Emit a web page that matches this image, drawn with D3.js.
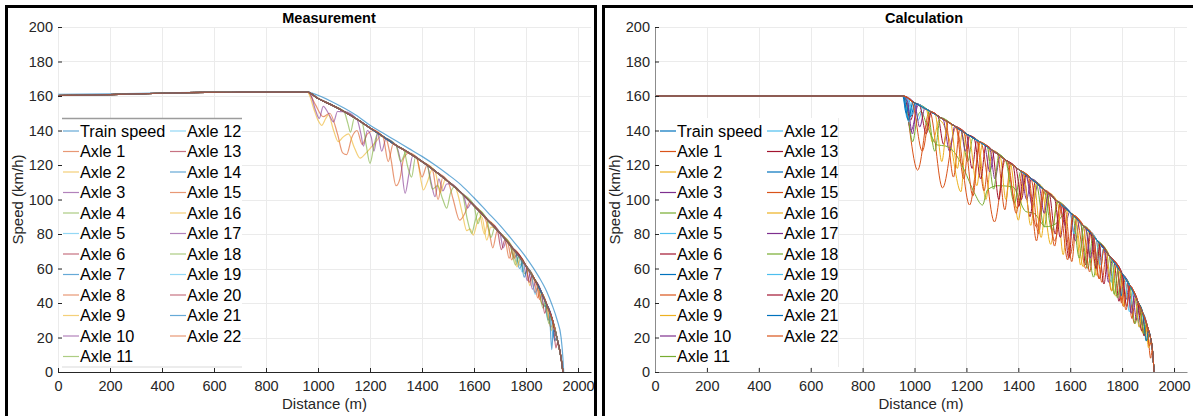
<!DOCTYPE html>
<html>
<head>
<meta charset="utf-8">
<script src="https://cdn.jsdelivr.net/npm/d3@7"></script>
<style>
    body { margin: 0; background: #fff; }
    svg { display: block; font-family: "Liberation Sans", Arial, sans-serif; }
</style>
</head>
<body>
<svg id="chart" width="1193" height="416"></svg>
<script>
// Data: [distance (m), speed (km/h)]
const seriesNames = ["Train speed", "Axle 1", "Axle 2", "Axle 3", "Axle 4", "Axle 5", "Axle 6", "Axle 7", "Axle 8", "Axle 9", "Axle 10", "Axle 11",
    "Axle 12", "Axle 13", "Axle 14", "Axle 15", "Axle 16", "Axle 17", "Axle 18", "Axle 19", "Axle 20", "Axle 21", "Axle 22"]
const xTicks = [0, 200, 400, 600, 800, 1000, 1200, 1400, 1600, 1800, 2000]
const yTicks = [0, 20, 40, 60, 80, 100, 120, 140, 160, 180, 200]

// Measurement
const measTrain = [[0,161],[200,161.3],[400,161.8],[600,162.3],[800,162.3],[955,162.5],[980,161.5],[1050,157],[1100,153],[1150,148.5],[1200,143],
    [1250,138.5],[1300,134],[1350,129.5],[1400,125],[1450,120],[1500,114.5],[1550,108.5],[1600,101],[1650,93],[1700,85],[1750,76],[1800,66.5],
    [1850,55],[1880,46.5],[1900,39],[1920,30],[1935,20],[1942,8],[1945,0]]
const measBase = [[0,160.3],[100,160.5],[200,160.8],[300,161.2],[400,161.6],[500,161.9],[600,162.1],[700,162.2],[800,162.2],[900,162.3],[960,162.2],
    [1000,158.5],[1050,155],[1100,151],[1150,146.5],[1200,141.5],[1250,136.5],[1300,131.5],[1350,127],[1400,122],[1450,116.5],[1500,110.5],
    [1550,104],[1600,96.5],[1650,88.5],[1700,80.5],[1750,71.5],[1800,61.5],[1830,54.5],[1860,46],[1880,39],[1900,31],[1920,19],[1935,8],[1942,0]]
const measDips = [
    // Axle 1
    [[[965,161.7],[990,155],[1020,148],[1045,150],[1075,138],[1095,127],[1110,126],[1130,136],[1150,140],[1170,132],[1190,138],[1215,140]],
     [[1262,135.3],[1280,124],[1300,108],[1315,112],[1330,124],[1350,127]],
     [[1500,110.5],[1520,100],[1545,88],[1565,92],[1585,98.8]],
     [[1640,90.1],[1660,80],[1672,72],[1690,82.1]],
     [[1840,51.7],[1860,40],[1875,38],[1885,37]]],
    // Axle 2
    [[[962,162],[985,152],[1000,146],[1014,143],[1030,147],[1040,149],[1060,140],[1078,133.5],[1095,136],[1117,138],[1140,130],[1162,124],[1185,127],[1206,130.6],[1225,134],[1245,137]],
     [[1380,124],[1395,112],[1405,105.5],[1420,110],[1440,117.6]],
     [[1530,106.6],[1555,92],[1572,82],[1585,83],[1597,79.4],[1615,88],[1630,90],[1649,76.5],[1665,84],[1680,83.7]],
     [[1760,69.5],[1775,62],[1790,63.5]]],
    // Axle 3
    [[[970,161.3],[990,152],[1005,147],[1020,154],[1040,150],[1060,145],[1075,151],[1100,151]],
     [[1150,146.5],[1165,138],[1175,131],[1190,140],[1205,136],[1215,128],[1230,138.5]],
     [[1300,131.5],[1320,120],[1335,103.6],[1350,115],[1365,125.5]],
     [[1420,120],[1435,110],[1450,101.6],[1465,112],[1480,105],[1495,109],[1510,109.2]],
     [[1700,80.5],[1712,72],[1725,76]]],
    // Axle 4
    [[[1100,151],[1115,144],[1125,139],[1140,147.4]],
     [[1170,144.5],[1185,132],[1200,121],[1215,131],[1230,138.5]],
     [[1330,128.8],[1345,119],[1360,113],[1375,124.5]],
     [[1420,120],[1440,106],[1460,108],[1480,100],[1495,95],[1510,104],[1525,107.3]],
     [[1555,103.3],[1575,88],[1591,80.4],[1605,88],[1620,93.3]],
     [[1780,65.5],[1795,57],[1810,59.2]]],
    [[[1750,71.5],[1762,64],[1772,67.1]], [[1855,47.4],[1870,38],[1880,39]]],
    [[[1740,73.3],[1755,66],[1765,68.5]], [[1820,56.8],[1835,46],[1848,49.4]]],
    [[[1760,69.5],[1775,60],[1790,63.5]], [[1870,42.5],[1885,30],[1895,33]]],
    [[[1380,124],[1400,113],[1420,120]], [[1720,76.9],[1735,66],[1750,71.5]], [[1880,39],[1895,26],[1905,28]]],
    [[[1450,116.5],[1470,104],[1490,111.7]], [[1620,93.3],[1640,80],[1655,87.7]], [[1800,61.5],[1815,50],[1825,55.7]]],
    [[[1230,138.5],[1245,128],[1262,135.3]], [[1560,102.5],[1575,95],[1590,98]], [[1790,63.5],[1805,53],[1818,57.3]]],
    [[[1300,131.5],[1318,122],[1340,127.9]], [[1650,88.5],[1665,78],[1680,83.7]], [[1850,48.8],[1865,37],[1875,40.8]]],
    [[[1770,67.5],[1785,58],[1797,62.1]], [[1895,33],[1905,20],[1912,23.8]]],
    [[[1690,82.1],[1705,71],[1720,76.9]], [[1860,46],[1872,34],[1882,38.2]]],
    [[[1780,65.5],[1793,55],[1806,60.1]], [[1900,31],[1910,18],[1918,20.2]]],
    [[[1440,117.6],[1462,100],[1480,112.9]], [[1730,75.1],[1745,65],[1758,69.9]], [[1830,54.5],[1845,43],[1855,47.4]]],
    [[[1750,71.5],[1765,61],[1778,65.9]], [[1885,37],[1897,24],[1905,28]]],
    [[[1810,59.2],[1825,48],[1838,52.2]]],
    [[[1600,96.5],[1615,86],[1630,91.7]], [[1740,73.3],[1760,62],[1772,67.1]], [[1875,40.8],[1888,28],[1896,32.6]]],
    [[[1820,56.8],[1835,45],[1846,50]]],
    [[[1800,61.5],[1812,52],[1824,55.9]], [[1905,28],[1915,14],[1922,17.5]]],
    [[[1890,35],[1899,13],[1905,24],[1912,23.8]]],
    [[[1250,136.5],[1270,122],[1290,132.5]], [[1840,51.7],[1852,42],[1862,45.3]]]
]

// Calculation
const calcTrain = [[0,160],[954,160],[1000,156],[1050,152],[1100,147.5],[1150,143],[1200,138],[1250,133.5],[1300,128.5],[1350,123],[1400,117.5],
    [1450,112],[1500,105.5],[1550,99],[1600,92.5],[1650,85],[1700,77],[1750,67.5],[1800,57],[1830,50],[1860,41],[1880,34],[1900,25],[1910,19.5],
    [1918,11],[1923,0]]
const calcDips = [
    // Axle 1
    [[[954,160],[1012,117],[1058,151.3],[1108,106.7],[1160,142],[1212,96.8],[1255,133],[1308,87],[1350,123],[1395,95],[1430,114.2],[1470,84],
      [1505,104.9],[1540,76],[1570,96.4],[1600,68],[1625,88.7],[1660,60],[1680,80.2],[1712,54],[1730,71.3],[1760,47],[1778,61.6],[1805,38],
      [1822,51.8],[1848,28],[1862,40.3],[1885,21],[1895,27.3],[1910,8],[1916,13]]],
    // Axle 2
    [[[1045,152.4],[1070,133],[1095,146],[1135,134.5],[1179,104.5],[1199,138.1]], [[1245,134],[1275,100],[1300,128.5]],
     [[1370,120.8],[1400,88],[1425,114.8]], [[1490,106.8],[1525,74],[1550,99]], [[1620,89.5],[1650,61],[1672,81.5]],
     [[1750,67.5],[1775,44],[1792,58.7]], [[1860,41],[1878,23],[1890,29.5]]],
    // Axle 3
    [[[958,159.7],[987,140],[1015,154.8]], [[1110,146.6],[1135,128],[1155,142.5]], [[1290,129.5],[1310,112],[1330,125.2]],
     [[1430,114.2],[1455,96],[1475,108.8]], [[1560,97.7],[1580,85],[1598,92.8]], [[1690,78.6],[1705,62],[1720,73.2]], [[1800,57],[1815,42],[1828,50.5]]],
    // Axle 4
    [[[960,159.5],[975,148],[993,133.5],[1010,147],[1025,151],[1050,142],[1089,131.6],[1120,131],[1150,128],[1192,117],[1230,104],[1262,96.8],
      [1281,105.5],[1320,108],[1378,107.4],[1429,93],[1460,92],[1506,84.2],[1545,86],[1590,93.8]],
     [[1660,83.4],[1690,55],[1712,74.8]], [[1830,50],[1850,28],[1866,38.9]]],
    [[[956,159.8],[972,147],[990,156.9]], [[1000,156],[1015,146],[1032,153.4]], [[1740,69.4],[1758,52],[1772,62.9]]],
    [[[962,159.3],[985,146],[1005,155.6]], [[1200,138],[1222,118],[1240,134.4]], [[1380,119.7],[1402,96],[1420,115.3]], [[1520,102.9],[1542,80],[1560,97.7]],
     [[1640,86.5],[1660,62],[1676,80.8]], [[1770,63.3],[1788,41],[1802,56.5]], [[1870,37.5],[1885,21],[1895,27.3]]],
    [[[955,159.9],[968,150],[982,157.5]], [[1850,44],[1868,26],[1880,34]]],
    [[[1120,145.7],[1150,113],[1175,140.5]], [[1240,134.4],[1268,105],[1290,129.5]], [[1320,126.3],[1348,94],[1370,120.8]], [[1450,112],[1478,80],[1500,105.5]],
     [[1580,95.1],[1606,64],[1625,88.7]], [[1700,77],[1722,52],[1740,69.4]], [[1820,52.3],[1838,31],[1852,43.4]]],
    [[[1140,143.9],[1165,118],[1185,139.5]], [[1330,125.2],[1352,100],[1372,120.6]], [[1460,110.7],[1488,78],[1510,104.2]], [[1550,99],[1573,68],[1592,93.6]],
     [[1680,80.2],[1700,56],[1718,73.6]], [[1790,59.1],[1808,38],[1822,51.8]], [[1890,29.5],[1902,14],[1910,19.5]]],
    [[[1000,156],[1020,142],[1040,152.8]], [[1270,131.5],[1290,116],[1308,127.6]], [[1410,116.4],[1432,100],[1450,112]], [[1600,92.5],[1620,76],[1636,87.1]],
     [[1730,71.3],[1748,52],[1762,65]], [[1840,47],[1856,30],[1868,38.2]]],
    [[[1180,140],[1205,122],[1225,135.7]], [[1350,123],[1385,98],[1410,116.4]], [[1500,105.5],[1530,82],[1552,98.7]], [[1640,86.5],[1668,60],[1688,78.9]],
     [[1760,65.4],[1782,43],[1798,57.4]], [[1880,34],[1895,18],[1905,22.2]]],
    [[[960,159.5],[978,145],[996,156.4]], [[1600,92.5],[1615,80],[1628,88.3]], [[1810,54.7],[1828,35],[1842,46.4]]],
    [[[1090,148.4],[1112,132],[1130,144.8]], [[1300,128.5],[1325,100],[1345,123.5]], [[1420,115.3],[1445,90],[1465,110]], [[1570,96.4],[1595,66],[1612,90.7]],
     [[1710,75.1],[1730,51],[1746,68.3]], [[1860,41],[1875,24],[1886,31.3]]],
    [[[966,158.9],[985,148],[1002,155.8]], [[1780,61.2],[1796,44],[1808,55.2]]],
    [[[1160,142],[1190,112],[1212,136.9]], [[1360,121.9],[1392,92],[1415,115.9]], [[1510,104.2],[1540,73],[1562,97.4]], [[1650,85],[1675,58],[1694,78]],
     [[1780,61.2],[1798,40],[1812,54.2]], [[1895,27.3],[1905,15],[1912,17.4]]],
    [[[1080,149.3],[1105,122],[1128,145]], [[1210,137.1],[1240,108],[1262,132.3]], [[1420,115.3],[1448,85],[1470,109.4]], [[1620,89.5],[1640,62],[1660,83.4]],
     [[1740,69.4],[1760,47],[1776,62]], [[1850,44],[1866,26],[1878,34.7]]],
    [[[970,158.6],[992,138],[1010,155.2]], [[1180,140],[1196,128],[1212,136.9]], [[1480,108.1],[1500,92],[1516,103.4]], [[1660,83.4],[1678,66],[1692,78.3]],
     [[1820,52.3],[1836,34],[1848,44.6]]],
    [[[1050,152],[1078,128],[1100,147.5]], [[1280,130.5],[1305,106],[1325,125.7]], [[1470,109.4],[1500,84],[1520,102.9]], [[1610,91],[1635,66],[1652,84.7]],
     [[1750,67.5],[1770,45],[1785,60.2]], [[1870,37.5],[1884,22],[1894,28.4]]],
    [[[975,158.2],[990,149],[1006,155.5]], [[1700,77],[1716,62],[1728,71.7]]],
    [[[1020,154.4],[1045,138],[1065,150.7]], [[1230,135.3],[1255,112],[1275,131]], [[1390,118.6],[1412,100],[1430,114.2]], [[1540,100.3],[1562,78],[1580,95.1]],
     [[1680,80.2],[1700,60],[1715,74.2]], [[1800,57],[1818,38],[1830,50]]],
    [[[958,159.7],[976,146],[994,156.5]], [[1880,34],[1893,18],[1902,24]]],
    [[[990,156.9],[1030,128],[1062,150.9]], [[1190,139],[1225,102],[1250,133.5]], [[1440,113.1],[1470,76],[1495,106.2]], [[1560,97.7],[1590,65],[1610,91]],
     [[1690,78.6],[1712,54],[1730,71.3]], [[1795,58],[1815,36],[1830,50]]]
]

const lineColors = ["#0072BD", "#D95319", "#EDB120", "#7E2F8E", "#77AC30", "#4DBEEE", "#A2142F"]

// base curve outside the dips, dip points inside them
function buildSeries(base, dips){
    let spans = dips.map((g) => {return [g[0][0], g[g.length - 1][0]]})
    let kept = base.filter((p) => {return !spans.some((s) => {return p[0] >= s[0] && p[0] <= s[1]})})
    return kept.concat(...dips).sort((a, b) => {return a[0] - b[0]})
}

function drawPanel(svg, cfg){
    let x = d3.scaleLinear([0, 2050], [cfg.x0, cfg.x1])
    let y = d3.scaleLinear([0, 200], [372, 27])
    let g = svg.append('g')

    // grid
    g.append('g').selectAll('line').data(xTicks).join('line')
        .attr('x1', (d) => {return Math.round(x(d)) + 0.5}).attr('x2', (d) => {return Math.round(x(d)) + 0.5})
        .attr('y1', 27).attr('y2', 372).attr('stroke', '#ebebeb')
    g.append('g').selectAll('line').data(yTicks).join('line')
        .attr('x1', cfg.x0).attr('x2', cfg.x1)
        .attr('y1', (d) => {return Math.round(y(d)) + 0.5}).attr('y2', (d) => {return Math.round(y(d)) + 0.5}).attr('stroke', '#ebebeb')

    // lines
    let series = [cfg.train].concat(cfg.dips.map((d) => {return buildSeries(cfg.base, d)}))
    let line = d3.line().x((d) => {return x(d[0])}).y((d) => {return y(d[1])}).curve(d3.curveMonotoneX)
    g.append('g').selectAll('path').data(series).join('path')
        .attr('d', line)
        .attr('fill', 'none')
        .attr('stroke', (d, i) => {return lineColors[i % 7]})
        .attr('stroke-width', cfg.width)
        .attr('stroke-opacity', cfg.opacity)

    // legend
    let lg = g.append('g')
    lg.append('rect').attr('x', cfg.x0 + cfg.legendLeft).attr('y', 118).attr('width', 184 - cfg.legendLeft).attr('height', 249).attr('fill', '#fff')
    if (cfg.legendTop) {
        lg.append('line').attr('x1', cfg.x0 + 4).attr('x2', cfg.x0 + 184).attr('y1', 118.5).attr('y2', 118.5).attr('stroke', '#9c9c9c').attr('stroke-width', 1.5)
        lg.append('line').attr('x1', cfg.x0 + 4).attr('x2', cfg.x0 + 184).attr('y1', 367).attr('y2', 367).attr('stroke', '#ececec').attr('stroke-width', 2)
    } else {
        lg.append('line').attr('x1', cfg.x0 + 183.5).attr('x2', cfg.x0 + 183.5).attr('y1', 118).attr('y2', 367).attr('stroke', '#ececec')
    }
    let items = lg.selectAll('g.item').data(seriesNames).join('g').attr('class', 'item')
        .attr('transform', (d, i) => {
            let col = i < 12 ? 0 : 1
            let row = i < 12 ? i : i - 12
            return 'translate(' + (cfg.x0 + col * 107) + ',' + (131 + row * 20.5) + ')'
        })
    items.append('line').attr('x1', 5).attr('x2', 21).attr('y1', 0).attr('y2', 0)
        .attr('stroke', (d, i) => {return lineColors[i % 7]}).attr('stroke-width', 1.2).attr('stroke-opacity', cfg.opacity)
    items.append('text').attr('x', 22).attr('dy', '0.36em').attr('font-size', '16.3px').attr('fill', '#000').text((d) => {return d})

    // axes
    let xAxis = d3.axisBottom(x).tickValues(xTicks).tickFormat(d3.format('d')).tickSizeInner(-4).tickSizeOuter(0).tickPadding(9)
    let yAxis = d3.axisLeft(y).tickValues(yTicks).tickFormat(d3.format('d')).tickSizeInner(-4).tickSizeOuter(0).tickPadding(5)
    let gx = g.append('g').attr('transform', 'translate(0,372)').call(xAxis)
    let gy = g.append('g').attr('transform', 'translate(' + cfg.x0 + ',0)').call(yAxis)
    ;[gx, gy].forEach((a) => {
        a.attr('font-family', null).attr('font-size', null)
        a.selectAll('text').attr('font-size', '14.5px').attr('fill', '#262626')
        a.selectAll('.tick line').attr('stroke', '#262626')
        a.select('.domain').attr('stroke', cfg.axisColor)
    })
    gx.select('.domain').attr('stroke', cfg.xAxisColor)
    if (!cfg.yAxisLine) gy.select('.domain').remove()

    // titles
    g.append('text').attr('x', cfg.titleX).attr('y', 23).attr('text-anchor', 'middle')
        .attr('font-size', '14.5px').attr('font-weight', 'bold').attr('fill', '#000').text(cfg.title)
    g.append('text').attr('x', (cfg.x0 + cfg.x1) / 2).attr('y', 409).attr('text-anchor', 'middle')
        .attr('font-size', '15px').attr('fill', '#262626').text('Distance (m)')
    g.append('text').attr('transform', 'translate(' + (cfg.x0 - 35) + ',199.5) rotate(-90)').attr('text-anchor', 'middle')
        .attr('font-size', '15px').attr('fill', '#262626').text('Speed (km/h)')
}

let svg = d3.select('#chart')

drawPanel(svg, {x0: 58, x1: 591, title: 'Measurement', titleX: 329, train: measTrain, base: measBase, dips: measDips,
    width: 1.2, opacity: 0.6, legendLeft: 4, legendTop: true, yAxisLine: false, axisColor: '#262626', xAxisColor: '#262626'})
drawPanel(svg, {x0: 655, x1: 1187, title: 'Calculation', titleX: 924, train: calcTrain, base: calcTrain, dips: calcDips,
    width: 1, opacity: 1, legendLeft: 1, legendTop: false, yAxisLine: true, axisColor: '#8c8c8c', xAxisColor: '#8c8c8c'})

// panel frames
svg.append('rect').attr('x', 6.5).attr('y', 6.5).attr('width', 589).attr('height', 430).attr('fill', 'none').attr('stroke', '#000').attr('stroke-width', 3)
svg.append('rect').attr('x', 603.5).attr('y', 6.5).attr('width', 620).attr('height', 430).attr('fill', 'none').attr('stroke', '#000').attr('stroke-width', 3)
</script>
</body>
</html>
